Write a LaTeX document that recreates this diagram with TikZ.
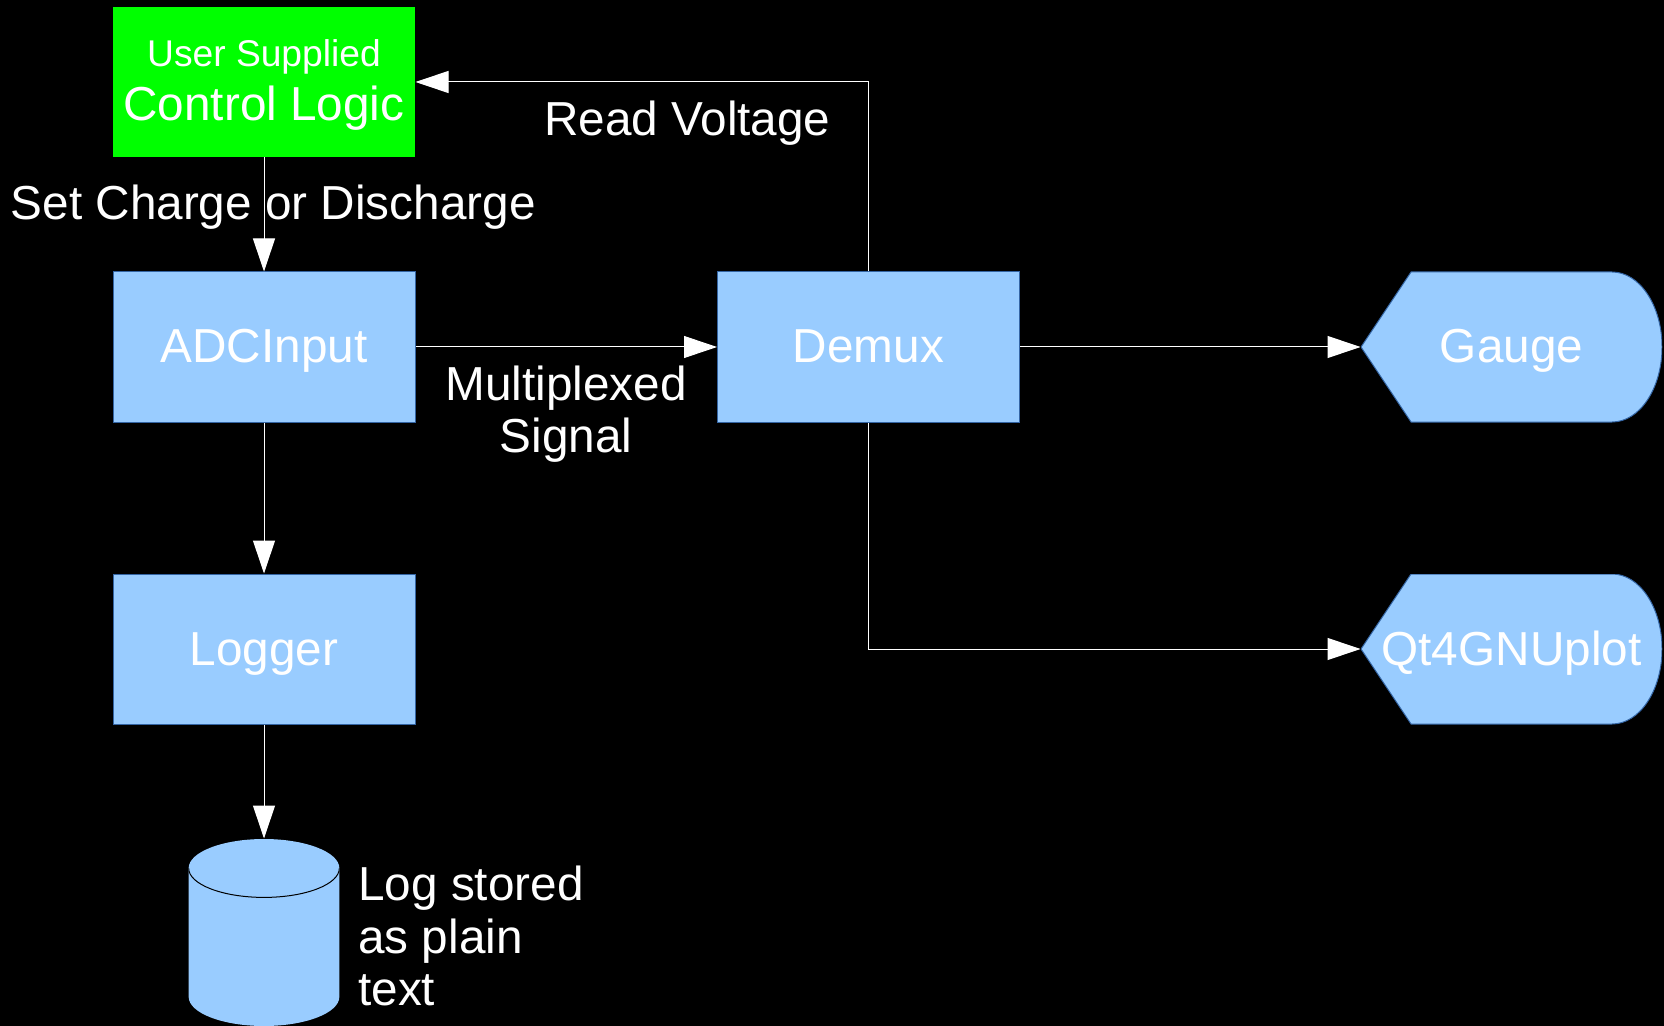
\documentclass[tikz,border=0pt]{standalone}
\usepackage{fontspec}
\setmainfont{Liberation Sans}
\usetikzlibrary{arrows.meta}

\definecolor{blockblue}{HTML}{99CCFF}
\definecolor{blockedge}{HTML}{3465A4}
\definecolor{logicgreen}{HTML}{00FF00}

\newcommand{\mainsize}{\fontsize{23.85pt}{26.25pt}\selectfont}
\newcommand{\subsize}{\fontsize{18.6pt}{22pt}\selectfont}

\tikzset{
    block/.style={
           rectangle,
           fill=blockblue,
           draw=blockedge, line width=0.5pt,
           minimum width=151pt,
           minimum height=75pt,
           inner sep=0pt,
           text height=20pt,
           text depth=4pt,
           font=\mainsize
           },
    logic/.style={
           rectangle,
           fill=logicgreen,
           minimum width=151pt,
           minimum height=75pt,
           inner sep=0pt,
           align=center,
           font=\mainsize
           },
    display/.style={
           rectangle,
           minimum width=150.5pt,
           minimum height=75pt,
           inner sep=0pt,
           text height=20pt,
           text depth=4pt,
           font=\mainsize,
           path picture={
             \filldraw[-, fill=blockblue, draw=blockedge, line width=0.5pt]
               (path picture bounding box.west)
               -- ([xshift=25pt]path picture bounding box.north west)
               -- ([xshift=-25pt]path picture bounding box.north east)
               arc[start angle=90, end angle=-90, x radius=25pt, y radius=37.5pt]
               -- ([xshift=25pt]path picture bounding box.south west)
               -- cycle;
             }
           },
    store/.style={
           rectangle,
           minimum width=75.35pt,
           minimum height=93.5pt,
           inner sep=0pt,
           path picture={
             \fill[-, blockblue]
               ([yshift=-14.6pt]path picture bounding box.north west)
               arc[start angle=180, end angle=0, x radius=37.675pt, y radius=14.6pt]
               -- ([yshift=14.6pt]path picture bounding box.south east)
               arc[start angle=0, end angle=-180, x radius=37.675pt, y radius=14.6pt]
               -- cycle;
             \draw[-, black, line width=0.5pt]
               ([yshift=-14.6pt]path picture bounding box.north west)
               arc[start angle=180, end angle=360, x radius=37.675pt, y radius=14.6pt];
             }
           },
    flowtext/.style={
           inner sep=0pt,
           font=\mainsize
           },
}

\begin{document}
\begin{tikzpicture}[->,>={Triangle[length=16.5pt,width=11pt]},white,line width=0.5pt]

\fill[black,-] (0,0) rectangle (832pt,-513pt);

\node[logic] (ctrl) at (132pt,-41pt)
{%
{\subsize\rule{0pt}{16.35pt}User Supplied}\\[0.4pt]
Control Logic
};

\node[block,
      below of=ctrl,
      node distance=132.5pt,
      anchor=center] (adc) {ADCInput};

\node[block,
      below of=adc,
      node distance=151pt,
      anchor=center] (logger) {Logger};

\node[store,
      below of=logger,
      node distance=141.75pt,
      anchor=center] (db) {};

\node[flowtext, align=left, anchor=west, xshift=9pt, yshift=-1.85pt] (dbnote) at (db.east)
{%
Log stored\\
as plain\\
text
};

\node[block,
      right of=adc,
      node distance=302.25pt,
      anchor=center] (demux) {Demux};

\node[display,
      right of=demux,
      node distance=321.5pt,
      anchor=center] (gauge) {Gauge};

\node[display,
      below of=gauge,
      node distance=151pt,
      anchor=center] (plot) {Qt4GNUplot};

\path
(ctrl)   edge node[flowtext, xshift=4.65pt, yshift=3.45pt] {Set Charge or Discharge} (adc)
(adc)    edge node[flowtext, align=center, anchor=north, yshift=-9pt]
         {%
         Multiplexed\\
         Signal
         }
         (demux)
(adc)    edge (logger)
(logger) edge (db)
(demux)  edge (gauge);

\draw (demux) |- node[flowtext, pos=0.7, anchor=north, yshift=-9pt] {Read Voltage} (ctrl);
\draw (demux) |- (plot);

\end{tikzpicture}
\end{document}
